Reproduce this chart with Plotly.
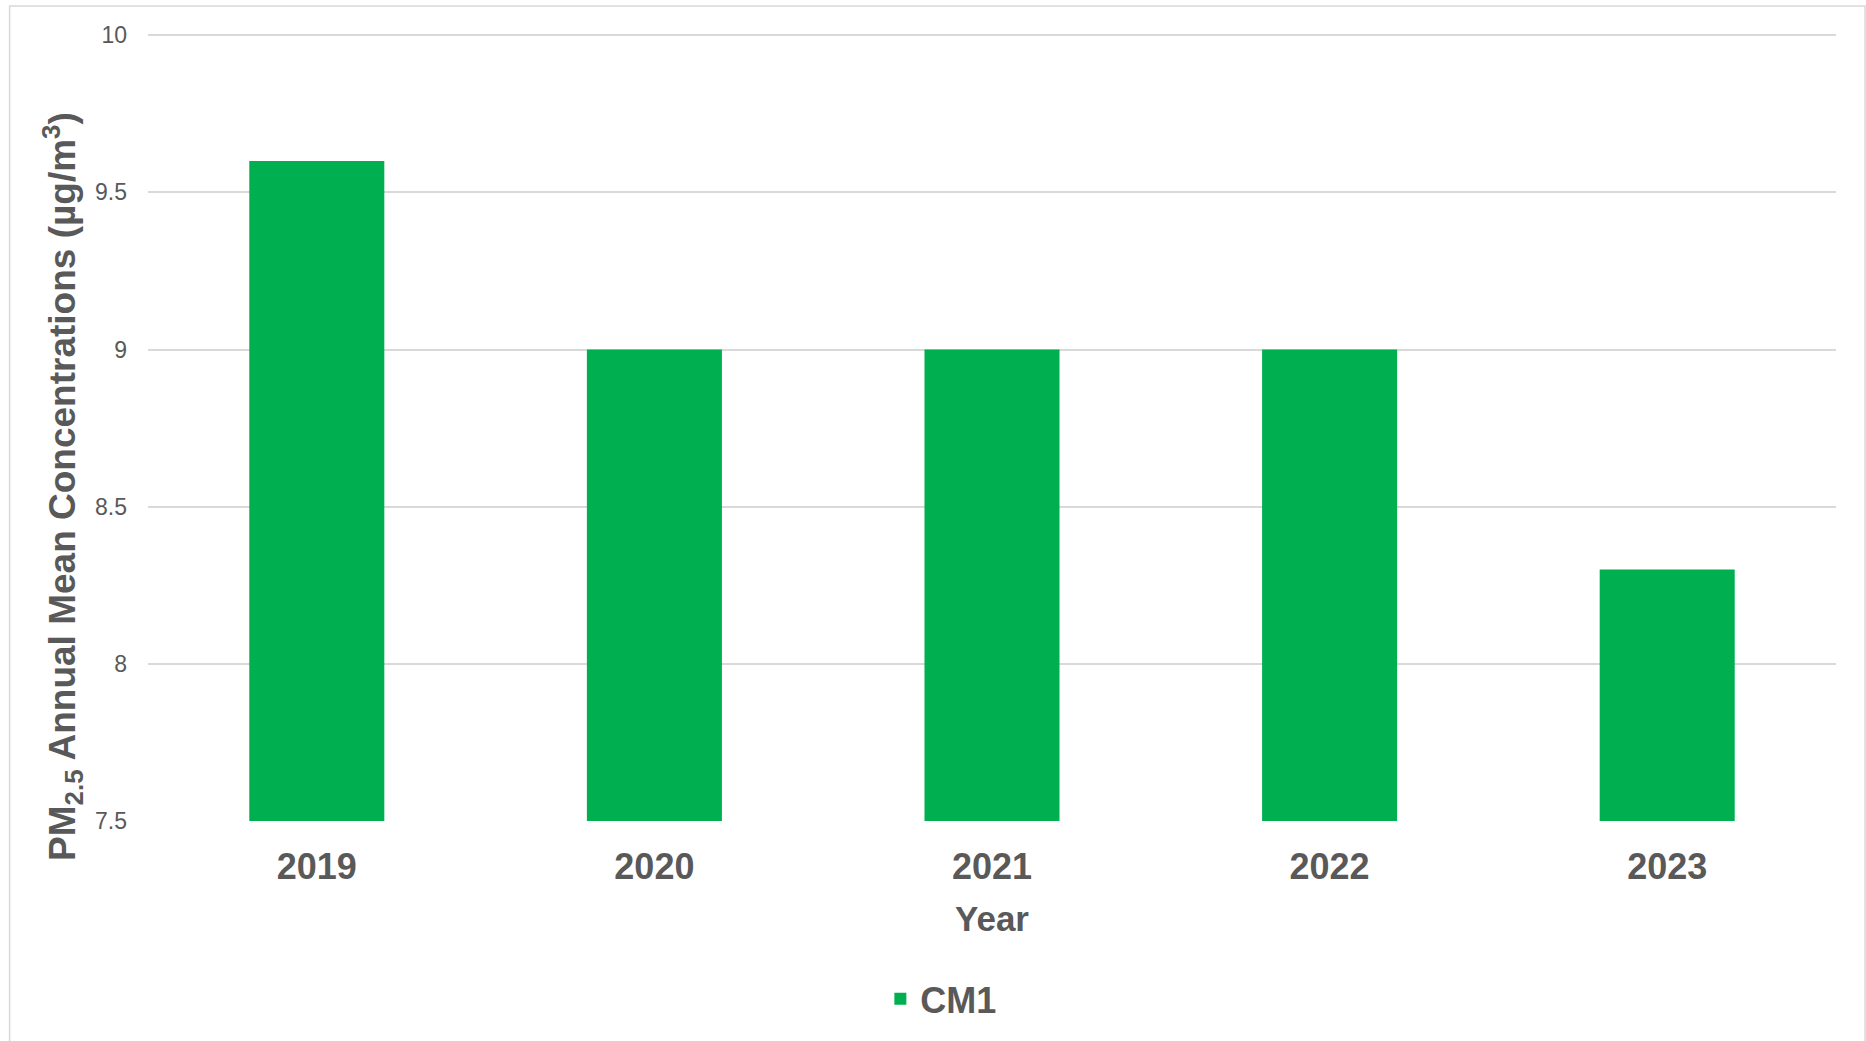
import plotly.graph_objects as go

years = ["2019", "2020", "2021", "2022", "2023"]
cm1_values = [9.6, 9.0, 9.0, 9.0, 8.3]
y_ticks = [7.5, 8, 8.5, 9, 9.5, 10]
y_tick_labels = ["7.5", "8", "8.5", "9", "9.5", "10"]

FONT = "Arial, 'Liberation Sans', Helvetica, sans-serif"
GRAY = "#595959"
GRID = "#d9d9d9"
GREEN = "#00b050"

fig = go.Figure()
fig.add_trace(go.Bar(
    x=years, y=cm1_values, name="CM1",
    marker=dict(color=GREEN, line=dict(width=0)),
))

fig.update_layout(
    width=1866, height=1041,
    margin=dict(l=148, r=30, t=29, b=220),
    paper_bgcolor="white", plot_bgcolor="white",
    font=dict(family=FONT, color=GRAY),
    bargap=0.6,
    showlegend=True,
    legend=dict(
        orientation="h", x=0.47, xanchor="center", y=-0.2247, yanchor="middle",
        font=dict(size=36, color=GRAY, family=FONT, weight="bold"),
        bgcolor="rgba(0,0,0,0)",
    ),
    xaxis=dict(
        type="category", showgrid=False, showline=False, zeroline=False,
        ticks="", ticklabelstandoff=21,
        tickfont=dict(size=36, color=GRAY, family=FONT, weight="bold"),
    ),
    yaxis=dict(
        range=[7.5, 10.02], tickvals=y_ticks, ticktext=y_tick_labels,
        showgrid=True, gridcolor=GRID, gridwidth=1.5,
        zeroline=False, showline=False, ticks="", ticklabelstandoff=20,
        tickfont=dict(size=23, color=GRAY, family=FONT),
    ),
    annotations=[
        dict(
            text="PM<sub>2.5</sub> Annual Mean Concentrations (µg/m<sup>3</sup>)",
            xref="paper", yref="paper", x=-0.0504, y=0.423,
            xanchor="center", yanchor="middle", textangle=-90, showarrow=False,
            font=dict(size=37, color=GRAY, family=FONT, weight="bold"),
        ),
        dict(
            text="Year", xref="paper", yref="paper", x=0.5, y=-0.1225,
            xanchor="center", yanchor="middle", showarrow=False,
            font=dict(size=35, color=GRAY, family=FONT, weight="bold"),
        ),
    ],
    shapes=[
        dict(type="rect", xref="paper", yref="paper",
             x0=-0.082, x1=1.0172, y0=-0.3, y1=1.029,
             line=dict(color=GRID, width=1.5), fillcolor="rgba(0,0,0,0)", layer="below"),
    ],
)

fig.write_html(
    "out.html",
    config={"displayModeBar": False},
    post_script="document.body.style.margin='0';document.body.style.overflow='hidden';",
)
